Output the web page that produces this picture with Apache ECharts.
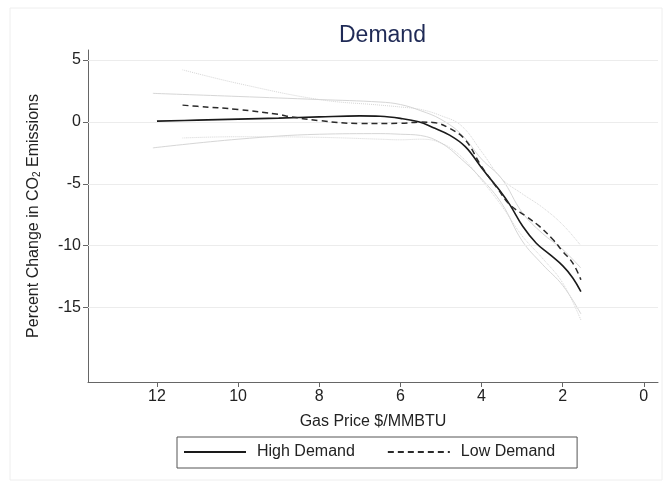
<!DOCTYPE html>
<html>
<head>
<meta charset="utf-8">
<script src="https://cdn.jsdelivr.net/npm/echarts@6/dist/echarts.min.js"></script>
<style>html,body{margin:0;padding:0;background:#fff;}#c{width:671px;height:490px;}</style>
</head>
<body>
<div id="c"></div>
<script>
// Tick labels
const xTicks = [12, 10, 8, 6, 4, 2, 0];
const yTicks = [5, 0, -5, -10, -15];

// High Demand fitted line
const highX = [12, 11, 10, 9, 8, 7, 6.5, 6, 5.55, 5.2, 4.8, 4.4, 4.0, 3.76, 3.56, 3.3, 2.98, 2.65, 2.32, 1.99, 1.75, 1.55];
const highY = [0.06, 0.14, 0.22, 0.3, 0.4, 0.48, 0.45, 0.28, 0.0, -0.45, -1.05, -2.0, -3.7, -4.7, -5.5, -6.7, -8.45, -9.8, -10.7, -11.65, -12.6, -13.7];

// Low Demand fitted line
const lowX = [11.37, 11, 10, 9, 8.8, 8, 7, 6, 5.5, 5.2, 4.8, 4.4, 4.0, 3.6, 3.3, 2.9, 2.57, 2.24, 2.0, 1.75, 1.55];
const lowY = [1.35, 1.25, 1.0, 0.6, 0.46, 0.1, -0.13, -0.12, -0.02, -0.05, -0.5, -1.45, -3.6, -5.4, -6.7, -7.63, -8.44, -9.5, -10.45, -11.4, -12.75];

// Confidence bands
const highCIx = [12.1, 10, 8, 6.5, 6, 5.5, 5, 4.5, 4, 3.5, 3, 2.5, 2, 1.55];
const highUpper = [2.3, 2.05, 1.8, 1.6, 1.4, 0.9, 0.2, -1.0, -3.0, -4.6, -7.3, -9.0, -10.3, -11.8];
const highLower = [-2.1, -1.4, -1.0, -0.95, -1.0, -1.1, -1.7, -3.0, -4.6, -6.6, -9.6, -11.5, -13.2, -15.5];
const lowCIx = [11.37, 10, 8, 6.5, 6, 5.5, 5, 4.5, 4, 3.5, 3, 2.5, 2, 1.55];
const lowUpper = [4.2, 3.1, 1.8, 1.35, 1.2, 1.0, 0.5, -0.3, -2.4, -4.6, -5.8, -6.9, -8.3, -10.0];
const lowLower = [-1.3, -1.2, -1.25, -1.4, -1.45, -1.4, -1.7, -2.8, -4.7, -6.8, -9.2, -11.0, -13.0, -16.0];

const zip = (xs, ys) => xs.map((x, i) => [x, ys[i]]);
const FONT = '"Liberation Sans", Arial, Helvetica, sans-serif';

const ciSeries = (name, xs, ys, type) => ({
  name: name, type: 'line', data: zip(xs, ys), smooth: 0.4, symbol: 'none', silent: true,
  lineStyle: { color: '#d6d6d6', width: 1, type: type }, z: 1
});

const chart = echarts.init(document.getElementById('c'), null, { renderer: 'canvas' });
chart.setOption({
  animation: false,
  backgroundColor: '#fff',
  title: {
    text: 'Demand', left: 334, top: 19,
    textStyle: { color: '#1f2a56', fontSize: 23, fontWeight: 'normal', fontFamily: FONT }
  },
  grid: { left: 88, right: 13, top: 50, bottom: 108 },
  xAxis: {
    type: 'value', inverse: true, min: -0.35, max: 13.7,
    name: 'Gas Price $/MMBTU', nameLocation: 'middle', nameGap: 32,
    nameTextStyle: { color: '#222', fontSize: 16, fontFamily: FONT },
    axisLine: { show: true, onZero: false, lineStyle: { color: '#666', width: 1 } },
    axisTick: { show: true, length: 5, customValues: xTicks, lineStyle: { color: '#666' } },
    axisLabel: { customValues: xTicks, color: '#222', fontSize: 16, fontFamily: FONT, margin: 7 },
    splitLine: { show: false }
  },
  yAxis: {
    type: 'value', min: -21, max: 5.8,
    name: '{a|Percent Change in CO}{s|2}{a| Emissions}', nameLocation: 'middle', nameGap: 46,
    nameTextStyle: {
      color: '#222', fontSize: 16, fontFamily: FONT,
      rich: {
        a: { fontSize: 16, color: '#222', fontFamily: FONT },
        s: { fontSize: 10, color: '#222', fontFamily: FONT, verticalAlign: 'bottom', padding: [7, 0, 0, 0] }
      }
    },
    axisLine: { show: true, onZero: false, lineStyle: { color: '#666', width: 1 } },
    axisTick: { show: true, length: 5, customValues: yTicks, lineStyle: { color: '#666' } },
    axisLabel: { customValues: yTicks, color: '#222', fontSize: 16, fontFamily: FONT, margin: 7 },
    splitLine: { show: false }
  },
  legend: {
    data: ['High Demand', 'Low Demand'],
    left: 177, top: 437,
    borderColor: '#555', borderWidth: 1, padding: [7, 22, 8, 6],
    itemWidth: 62, itemHeight: 10, itemGap: 32,
    itemStyle: { opacity: 0 },
    textStyle: { color: '#222', fontSize: 16, fontFamily: FONT, padding: [0, 0, 0, 6] }
  },
  graphic: [{
    type: 'rect', shape: { x: 10, y: 8, width: 652, height: 472 },
    style: { fill: 'none', stroke: '#eeeeee', lineWidth: 1 }, silent: true, z: -10
  }],
  series: [
    {
      name: 'grid', type: 'line', data: [], silent: true,
      markLine: {
        silent: true, symbol: 'none', label: { show: false },
        lineStyle: { color: '#ececec', width: 1, type: 'solid' },
        data: yTicks.map(v => ({ yAxis: v }))
      }, z: 0
    },
    ciSeries('hu', highCIx, highUpper, 'solid'),
    ciSeries('hl', highCIx, highLower, 'solid'),
    ciSeries('lu', lowCIx, lowUpper, 'dotted'),
    ciSeries('ll', lowCIx, lowLower, 'dotted'),
    {
      name: 'High Demand', type: 'line', data: zip(highX, highY), smooth: 0.4, symbol: 'none',
      lineStyle: { color: '#1a1a1a', width: 1.6, type: 'solid' }, itemStyle: { color: '#1a1a1a' }, z: 5
    },
    {
      name: 'Low Demand', type: 'line', data: zip(lowX, lowY), smooth: 0.4, symbol: 'none',
      lineStyle: { color: '#2a2a2a', width: 1.5, type: [6, 4] }, itemStyle: { color: '#2a2a2a' }, z: 5
    }
  ]
});
</script>
</body>
</html>
